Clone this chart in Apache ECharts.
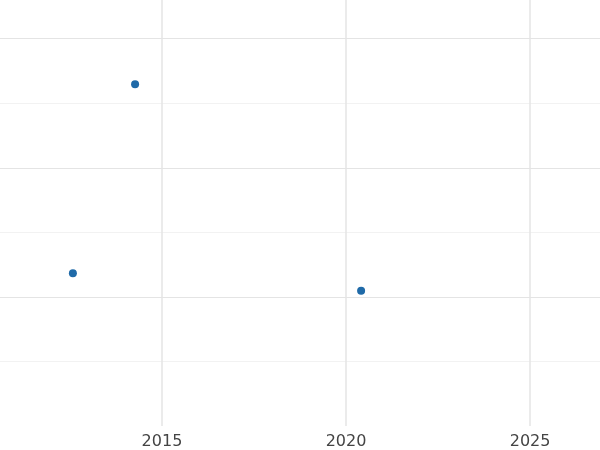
<!DOCTYPE html>
<html><head><meta charset="utf-8">
<script src="https://cdn.jsdelivr.net/npm/echarts@6/dist/echarts.min.js"></script>
<style>html,body{margin:0;padding:0;background:#fff}#c{width:600px;height:450px}</style>
</head><body><div id="c"></div>
<script>
const xValues = [2014.27, 2012.58, 2020.41];
const yValues = [2.147, 0.683, 0.548];
const xTicks = [2015, 2020, 2025];
const chart = echarts.init(document.getElementById('c'));
chart.setOption({
  animation: false,
  grid: {left: 0, right: 0, top: 0, bottom: 24},
  xAxis: {type: 'value', min: 2010.6, max: 2026.9,
    axisLine: {show: false}, axisTick: {show: false}, splitLine: {show: false},
    axisLabel: {customValues: xTicks, formatter: v => String(v), color: '#444', fontSize: 16, fontFamily: 'DejaVu Sans', margin: 8}},
  yAxis: {type: 'value', min: -0.5, max: 2.8, interval: 0.5,
    axisLine: {show: false}, axisTick: {show: false}, axisLabel: {show: false},
    splitLine: {showMinLine: false, showMaxLine: false, lineStyle: {color: ['#f2f2f2', '#e4e4e4'], width: 1}}},
  series: [{type: 'scatter', symbolSize: 8, itemStyle: {color: '#1f6aa8', opacity: 1},
    data: xValues.map((x, i) => [x, yValues[i]]),
    markLine: {silent: true, symbol: 'none', label: {show: false},
      lineStyle: {color: '#e4e4e4', type: 'solid', width: 1.5},
      data: xTicks.map(v => ({xAxis: v}))}}]
});
</script></body></html>
